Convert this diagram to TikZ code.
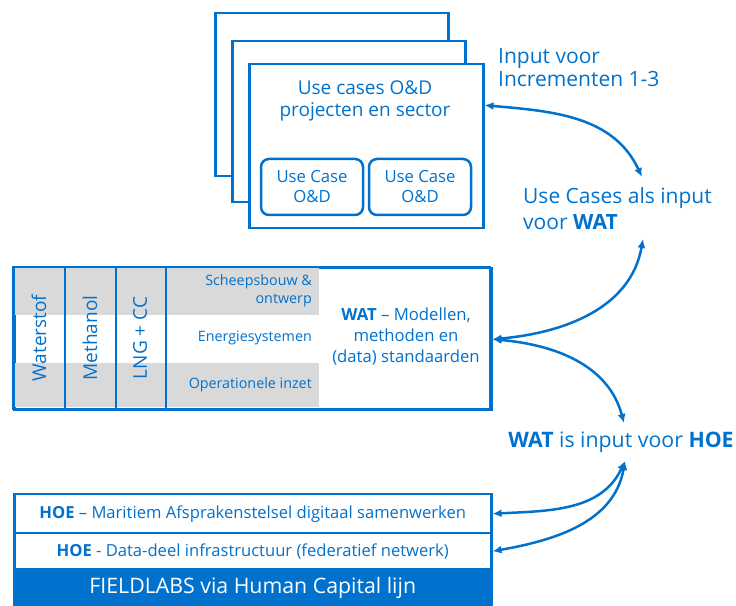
\documentclass[tikz,border=0pt]{standalone}
\usepackage{fontspec}
\setmainfont{Open Sans}
\usetikzlibrary{arrows.meta}
\definecolor{blu}{RGB}{0,114,206}
\definecolor{grijs}{RGB}{217,217,217}
\tikzset{
	kader/.style={draw=blu, line width=2.5pt, fill=white, inner sep=0pt},
	pijl/.style={draw=blu, line width=2.5pt, {Latex[length=9pt,width=8pt]}-{Latex[length=9pt,width=8pt]}},
	tekst/.style={text=blu, align=center, inner sep=0pt},
}
\begin{document}
\begin{tikzpicture}[x=1pt, y=1pt]
	\useasboundingbox (0,0) rectangle (736,605);
	% stapel use cases
	\node[kader, anchor=north west, minimum width=233pt, minimum height=163pt] (achter) at (214,593) {};
	\node[kader, anchor=north west, minimum width=233pt, minimum height=161pt] (midden) at (231,565) {};
	\node[kader, anchor=north west, minimum width=234pt, minimum height=164pt] (voor) at (248,542) {};
	\node[tekst, font=\fontsize{19}{22}\selectfont] (titel) at (365,504) {Use cases O\&D\\projecten en sector};
	\node[kader, tekst, rounded corners=8pt, minimum width=102pt, minimum height=56pt, font=\fontsize{16.7}{20}\selectfont] (uc1) at (312,418) {Use Case\\O\&D};
	\node[kader, tekst, rounded corners=8pt, minimum width=102pt, minimum height=56pt, font=\fontsize{16.7}{20}\selectfont] (uc2) at (420,418) {Use Case\\O\&D};
	\node[tekst, anchor=west, align=left, font=\fontsize{21}{23}\selectfont] (input) at (498,537) {Input voor\\Incrementen 1-3};
	\node[tekst, anchor=west, align=left, font=\fontsize{21}{26}\selectfont] (ucwat) at (523,396) {Use Cases als input\\voor \textbf{WAT}};
	% WAT
	\node[kader, anchor=north west, minimum width=477pt, minimum height=142pt] (wat) at (13,338) {};
	\fill[grijs] (14.5,336.5) rectangle (319,290);
	\fill[grijs] (14.5,242) rectangle (319,197.5);
	\draw[blu, line width=2.5pt] (13,338) rectangle (490,196);
	\foreach \x in {65,116,166}
		\draw[blu, line width=2.5pt] (\x,338) -- (\x,196);
	\node[tekst, rotate=90, font=\fontsize{19}{20}\selectfont] (waterstof) at (39,267) {Waterstof};
	\node[tekst, rotate=90, font=\fontsize{19}{20}\selectfont] (methanol) at (90,267) {Methanol};
	\node[tekst, rotate=90, font=\fontsize{19}{20}\selectfont] (lng) at (140,267) {LNG + CC};
	\node[tekst, anchor=east, align=right, font=\fontsize{14.3}{17.5}\selectfont] (scheeps) at (312,314) {Scheepsbouw \&\\ontwerp};
	\node[tekst, anchor=east, align=right, font=\fontsize{14.3}{17.5}\selectfont] (energie) at (312,267) {Energiesystemen};
	\node[tekst, anchor=east, align=right, font=\fontsize{14.3}{17.5}\selectfont] (operatie) at (312,220) {Operationele inzet};
	\node[tekst, font=\fontsize{16.7}{21}\selectfont] (wattekst) at (406,269) {\textbf{WAT} -- Modellen,\\methoden en\\(data) standaarden};
	\node[tekst, font=\fontsize{21.3}{23}\selectfont] (wathoe) at (621,163) {\textbf{WAT} is input voor \textbf{HOE}};
	% HOE
	\node[kader, tekst, anchor=north west, minimum width=477pt, minimum height=39pt, font=\fontsize{16.6}{18}\selectfont] (hoe1) at (13,112) {\textbf{HOE} -- Maritiem Afsprakenstelsel digitaal samenwerken};
	\node[kader, tekst, anchor=north west, minimum width=477pt, minimum height=36pt, font=\fontsize{16.6}{18}\selectfont] (hoe2) at (13,73) {\textbf{HOE} - Data-deel infrastructuur (federatief netwerk)};
	\node[fill=blu, draw=blu, line width=2.5pt, text=white, anchor=north west, minimum width=477pt, minimum height=37pt, inner sep=0pt, font=\fontsize{21.3}{23}\selectfont] (fieldlabs) at (13,37) {FIELDLABS via Human Capital lijn};
	% pijlen
	\coordinate (p1) at (642,428);
	\coordinate (p2) at (643,366);
	\coordinate (p3) at (624,182);
	\coordinate (p4) at (625,144);
	\draw[pijl] ([yshift=41pt]voor.east) to[out=-5, in=115] (p1);
	\draw[pijl] (wat.east) to[out=5, in=-100] (p2);
	\draw[pijl] (wat.east) to[out=-5, in=105] (p3);
	\draw[pijl] (hoe1.east) to[out=3, in=-115] (p4);
	\draw[pijl] (hoe2.east) to[out=10, in=-100] (p4);
\end{tikzpicture}
\end{document}
